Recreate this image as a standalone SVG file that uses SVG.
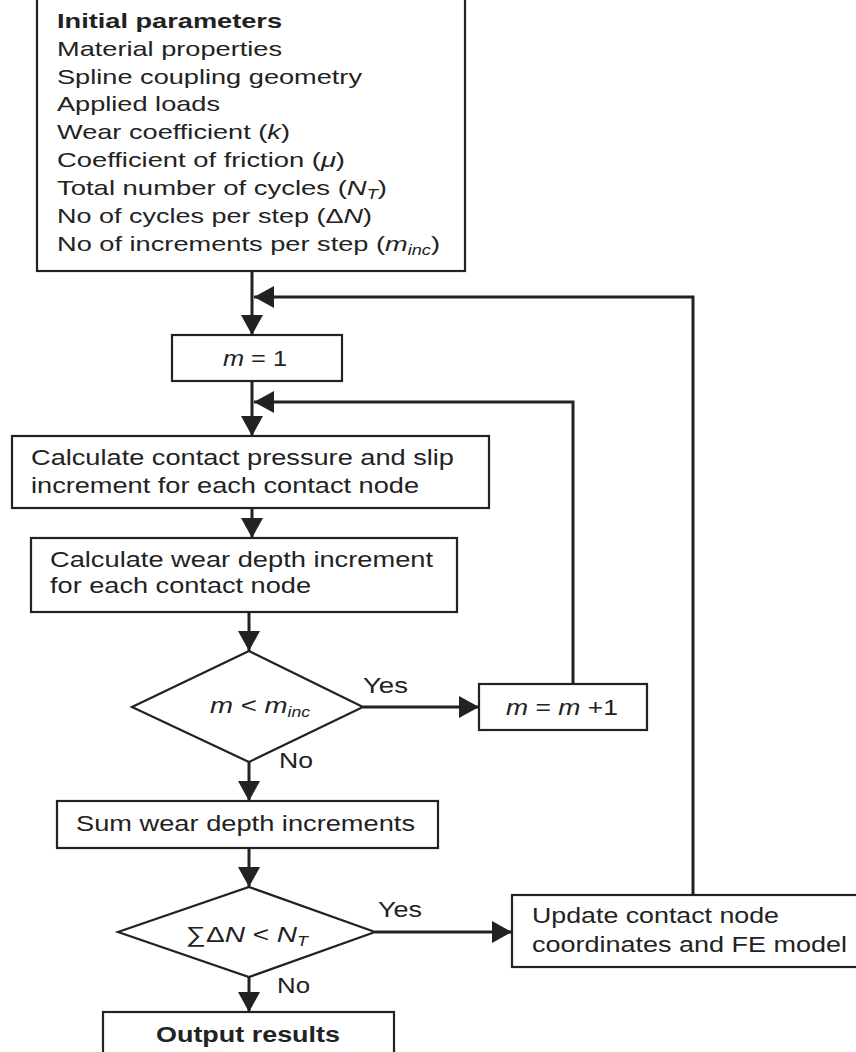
<svg xmlns="http://www.w3.org/2000/svg" width="856" height="1052" viewBox="0 0 856 1052">
<defs>
<style>
text{font-family:"Liberation Sans",Arial,sans-serif;font-size:22px;fill:#222}
.tp text{font-size:21px}
.b{font-weight:bold}
.i{font-style:italic}
.box{fill:#fff;stroke:#222;stroke-width:2.2}
.con{fill:none;stroke:#222;stroke-width:3}
</style>
<marker id="ah" markerUnits="userSpaceOnUse" markerWidth="22" markerHeight="24" refX="20" refY="11" orient="auto">
<path d="M0,0 L20,11 L0,22 z" fill="#222"/>
</marker>
</defs>
<rect width="856" height="1052" fill="#fff"/>

<g id="connectors">
<line class="con" x1="252" y1="271" x2="252" y2="335" marker-end="url(#ah)"/>
<polyline class="con" points="693,895 693,297 254,297" marker-end="url(#ah)"/>
<line class="con" x1="252" y1="381" x2="252" y2="436" marker-end="url(#ah)"/>
<polyline class="con" points="573,684 573,402 254,402" marker-end="url(#ah)"/>
<line class="con" x1="252" y1="508" x2="252" y2="538" marker-end="url(#ah)"/>
<line class="con" x1="249" y1="612" x2="249" y2="651" marker-end="url(#ah)"/>
<line class="con" x1="363" y1="707" x2="479" y2="707" marker-end="url(#ah)"/>
<line class="con" x1="249" y1="762" x2="249" y2="801" marker-end="url(#ah)"/>
<line class="con" x1="249" y1="848" x2="249" y2="887" marker-end="url(#ah)"/>
<line class="con" x1="375" y1="932" x2="512" y2="932" marker-end="url(#ah)"/>
<line class="con" x1="249" y1="977" x2="249" y2="1012" marker-end="url(#ah)"/>
<text x="363" y="693" textLength="45" lengthAdjust="spacingAndGlyphs">Yes</text>
<text x="279" y="768" textLength="34" lengthAdjust="spacingAndGlyphs">No</text>
<text x="378" y="917" textLength="44" lengthAdjust="spacingAndGlyphs">Yes</text>
<text x="277" y="993" textLength="33" lengthAdjust="spacingAndGlyphs">No</text>
</g>

<g id="initial" class="tp">
<rect class="box" x="37" y="-10" width="428" height="281"/>
<text class="b" x="57" y="28" textLength="225" lengthAdjust="spacingAndGlyphs">Initial parameters</text>
<text x="57" y="56" textLength="225" lengthAdjust="spacingAndGlyphs">Material properties</text>
<text x="57" y="84" textLength="305" lengthAdjust="spacingAndGlyphs">Spline coupling geometry</text>
<text x="57" y="111" textLength="163" lengthAdjust="spacingAndGlyphs">Applied loads</text>
<text x="57" y="139" textLength="233" lengthAdjust="spacingAndGlyphs">Wear coefficient (<tspan class="i">k</tspan>)</text>
<text x="57" y="167" textLength="288" lengthAdjust="spacingAndGlyphs">Coefficient of friction (<tspan class="i">μ</tspan>)</text>
<text x="57" y="195" textLength="330" lengthAdjust="spacingAndGlyphs">Total number of cycles (<tspan class="i">N</tspan><tspan class="i" dy="4" style="font-size:14px">T</tspan><tspan dy="-4">)</tspan></text>
<text x="57" y="223" textLength="315" lengthAdjust="spacingAndGlyphs">No of cycles per step (Δ<tspan class="i">N</tspan>)</text>
<text x="57" y="251" textLength="383" lengthAdjust="spacingAndGlyphs">No of increments per step (<tspan class="i">m</tspan><tspan class="i" dy="4" style="font-size:14px">inc</tspan><tspan dy="-4">)</tspan></text>
</g>

<g id="m1">
<rect class="box" x="172" y="335" width="170" height="46"/>
<text x="223" y="366" textLength="64" lengthAdjust="spacingAndGlyphs"><tspan class="i">m</tspan> = 1</text>
</g>

<g id="calcPressure">
<rect class="box" x="12" y="436" width="477" height="72"/>
<text x="31" y="465" textLength="423" lengthAdjust="spacingAndGlyphs">Calculate contact pressure and slip</text>
<text x="31" y="493" textLength="388" lengthAdjust="spacingAndGlyphs">increment for each contact node</text>
</g>

<g id="calcWear">
<rect class="box" x="31" y="538" width="426" height="74"/>
<text x="50" y="567" textLength="383" lengthAdjust="spacingAndGlyphs">Calculate wear depth increment</text>
<text x="50" y="593" textLength="261" lengthAdjust="spacingAndGlyphs">for each contact node</text>
</g>

<g id="decision1">
<polygon class="box" points="249,651 363,707 249,762 132,707"/>
<text x="210" y="713" textLength="100" lengthAdjust="spacingAndGlyphs"><tspan class="i">m</tspan> &lt; <tspan class="i">m</tspan><tspan class="i" dy="4" style="font-size:14px">inc</tspan></text>
</g>

<g id="increment">
<rect class="box" x="479" y="684" width="168" height="46"/>
<text x="506" y="715" textLength="112" lengthAdjust="spacingAndGlyphs"><tspan class="i">m</tspan> = <tspan class="i">m</tspan> +1</text>
</g>

<g id="sum">
<rect class="box" x="57" y="801" width="381" height="47"/>
<text x="76" y="831" textLength="339" lengthAdjust="spacingAndGlyphs">Sum wear depth increments</text>
</g>

<g id="decision2">
<polygon class="box" points="249,887 375,932 249,977 118,932"/>
<text x="186" y="942" textLength="122" lengthAdjust="spacingAndGlyphs">∑Δ<tspan class="i">N</tspan> &lt; <tspan class="i">N</tspan><tspan class="i" dy="4" style="font-size:14px">T</tspan></text>
</g>

<g id="update">
<rect class="box" x="512" y="895" width="360" height="72"/>
<text x="532" y="923" textLength="247" lengthAdjust="spacingAndGlyphs">Update contact node</text>
<text x="532" y="952" textLength="315" lengthAdjust="spacingAndGlyphs">coordinates and FE model</text>
</g>

<g id="output">
<rect class="box" x="103" y="1012" width="291" height="60"/>
<text class="b" x="156" y="1042" textLength="184" lengthAdjust="spacingAndGlyphs">Output results</text>
</g>
</svg>
